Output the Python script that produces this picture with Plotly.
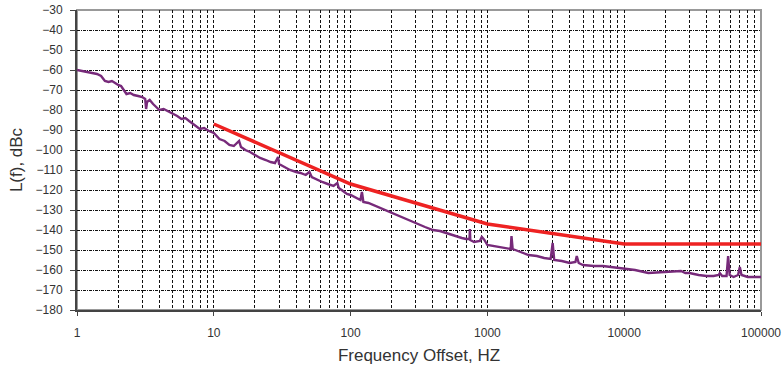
import plotly.graph_objects as go

# Measured phase noise (purple)
meas_freq = [1.0, 1.1, 1.2, 1.3, 1.4, 1.5, 1.6, 1.7, 1.8, 1.9, 2.0, 2.1, 2.2, 2.3, 2.45, 2.6, 2.8, 3.0,
             3.15, 3.2, 3.25, 3.4, 3.6, 3.8, 4.0, 4.3, 4.6, 5.0, 5.4, 5.8, 6.2, 6.6, 7.2, 7.9, 8.5, 9.2,
             10, 11, 12, 13, 14, 15.3, 15.8, 17, 18.4, 20, 21.8, 24, 26, 28, 29.5, 30, 33, 36, 40, 43,
             47, 50, 52, 57, 62, 68, 75, 80, 82, 88, 94, 100, 110, 118, 121, 124, 135, 146, 164, 180,
             200, 230, 260, 300, 350, 400, 450, 500, 550, 600, 650, 700, 740, 745, 750, 800, 880, 910,
             950, 1000, 1100, 1200, 1400, 1480, 1500, 1530, 1600, 1800, 2000, 2300, 2600, 2900, 3000,
             3080, 3500, 4000, 4400, 4500, 4650, 5000, 6000, 7000, 8000, 9000, 10000, 12000, 15000,
             20000, 24000, 26000, 28000, 30000, 35000, 40000, 45000, 49000, 50000, 52000, 56000,
             57500, 59000, 63000, 68000, 70000, 72000, 80000, 90000, 100000]
meas_dbc = [-60, -60.5, -61, -61.5, -62, -63, -65.5, -66, -65.5, -66.5, -67.5, -68, -70, -72, -71.5,
            -72.5, -73, -73.5, -74.5, -79.5, -76, -75, -77, -78.5, -80, -79.5, -80.5, -81.5, -83,
            -84.5, -84, -85.5, -87.5, -89.5, -89, -90.5, -91.5, -94.5, -95.5, -97.5, -98, -95.5,
            -98.5, -100, -101, -102.5, -104, -105, -106, -106.5, -103.5, -107, -108.5, -110, -111,
            -111.5, -112.5, -111, -113.5, -115, -116, -117, -118, -116.5, -119, -120.5, -122,
            -122.5, -124, -125, -121, -126, -126.5, -127.5, -129, -130, -131.5, -133.5, -135,
            -136.5, -138.5, -140, -140.5, -141.5, -142.5, -143.5, -144, -144.5, -144.5, -139.5,
            -145, -146, -145.5, -143.5, -145, -147.5, -148, -148.5, -149, -149.5, -143, -149.5,
            -150, -151.5, -152.5, -153, -154, -154.5, -146.5, -155, -155.5, -156.5, -156, -153,
            -156.5, -157.5, -158, -158, -158.5, -159, -159.5, -160, -161.5, -161, -161, -160.5,
            -161.5, -161.5, -162.5, -163, -163, -162.5, -161.5, -163, -163, -153, -162.5, -163.5,
            -162.5, -158.5, -162.5, -163.5, -163.5, -163.5]

# Specification limit (red)
spec_freq = [10, 100, 1000, 10000, 100000]
spec_dbc = [-87, -117, -137, -147, -147]

x_tick_vals = [1, 10, 100, 1000, 10000, 100000]
x_tick_text = ["1", "10", "100", "1000", "10000", "100000"]
y_tick_vals = list(range(-180, -29, 10))

FONT = "Liberation Sans, Arial, sans-serif"

fig = go.Figure()
fig.add_trace(go.Scatter(x=meas_freq, y=meas_dbc, mode="lines",
                         line=dict(color="#772a7a", width=2.4), showlegend=False))
fig.add_trace(go.Scatter(x=spec_freq, y=spec_dbc, mode="lines",
                         line=dict(color="#ee2222", width=3.5), showlegend=False))

fig.update_layout(
    width=782, height=368,
    margin=dict(l=77, r=21, t=10, b=58),
    paper_bgcolor="white", plot_bgcolor="white",
    font=dict(family=FONT, size=12, color="#333333"),
    xaxis=dict(
        type="log", range=[0, 5], automargin=False,
        tickvals=x_tick_vals, ticktext=x_tick_text,
        showgrid=True, gridcolor="#111111", gridwidth=1, griddash="3px,2px",
        minor=dict(dtick="D1", showgrid=True, gridcolor="#111111", gridwidth=1, griddash="3px,2px"),
        showline=True, linecolor="#444444", linewidth=2,
        ticks="outside", ticklen=4, tickcolor="#444444",
        tickfont=dict(size=12), zeroline=False, ticklabelstandoff=7,
        title=dict(text="Frequency Offset, HZ", font=dict(size=17), standoff=10),
    ),
    yaxis=dict(
        range=[-180, -30], automargin=False,
        tickvals=y_tick_vals,
        showgrid=True, gridcolor="#111111", gridwidth=1, griddash="3px,1px,1px,1px",
        showline=True, linecolor="#444444", linewidth=2,
        ticks="outside", ticklen=5, tickcolor="#444444",
        tickfont=dict(size=12), zeroline=False, ticklabelstandoff=5,
        title=dict(text="L(f), dBc", font=dict(size=17), standoff=9),
    ),
    shapes=[dict(type="rect", xref="x domain", yref="y domain", x0=0, x1=1, y0=0, y1=1,
                 line=dict(color="#999999", width=2), layer="below")],
)

# remove the default 8px page margin so the figure sits at the window origin
fig.write_html("out.html", config={"displayModeBar": False},
               post_script="document.body.style.margin='0';")
